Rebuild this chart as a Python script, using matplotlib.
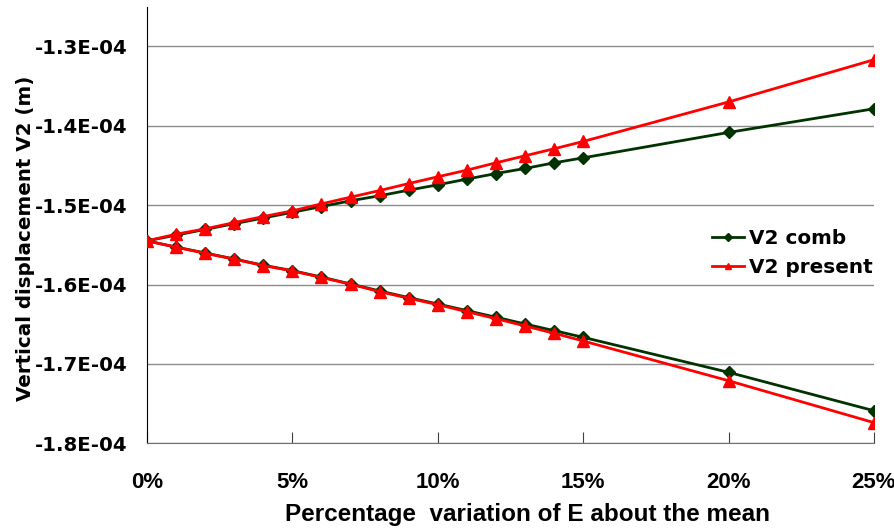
import matplotlib
matplotlib.use("Agg")
import matplotlib.pyplot as plt
import numpy as np
from matplotlib.ticker import FuncFormatter, MultipleLocator

# percentage variation of E (x) and vertical displacement V2 in units of 1E-04 m
pct = [0, 1, 2, 3, 4, 5, 6, 7, 8, 9, 10, 11, 12, 13, 14, 15, 20, 25]

comb_up = [-1.545, -1.5378, -1.5306, -1.5234, -1.5162, -1.5090, -1.5018, -1.4945,
           -1.4882, -1.4811, -1.4744, -1.4672, -1.4602, -1.4538, -1.4467, -1.4404,
           -1.4084, -1.3786]
comb_low = [-1.545, -1.5528, -1.5603, -1.5678, -1.5757, -1.5825, -1.5906, -1.5993,
            -1.6081, -1.6165, -1.6245, -1.6329, -1.6412, -1.6497, -1.6581, -1.6665,
            -1.7106, -1.7590]
present_up = [-1.545, -1.5366, -1.5299, -1.5220, -1.5144, -1.5072, -1.4984, -1.4900,
              -1.4816, -1.4728, -1.4643, -1.4559, -1.4467, -1.4378, -1.4290, -1.4198,
              -1.3700, -1.3168]
present_low = [-1.545, -1.5530, -1.5606, -1.5681, -1.5761, -1.5829, -1.5911, -1.5996,
               -1.6090, -1.6173, -1.6254, -1.6342, -1.6430, -1.6522, -1.6614, -1.6711,
               -1.7212, -1.7740]

WIDE = ["DejaVu Sans"]
NARROW = ["Liberation Sans Narrow", "Liberation Sans", "DejaVu Sans"]


def branch(up, low):
    # one polyline: upper branch from 25% back to 0%, then lower branch out to 25%
    x = np.concatenate([np.array(pct[::-1]), np.array(pct[1:])]) / 100.0
    y = np.concatenate([np.array(up[::-1]), np.array(low[1:])]) * 1e-4
    return x, y


fig = plt.figure(figsize=(8.95, 5.31), dpi=100)
ax = fig.add_axes([0.1642, 0.1652, 0.8123, 0.8222])

x, y = branch(comb_up, comb_low)
ax.plot(x, y, color="#003300", lw=2.0, marker="D", ms=6.5, label="V2 comb", zorder=3)
x, y = branch(present_up, present_low)
ax.plot(x, y, color="#ff0000", lw=2.0, marker="^", ms=8, label="V2 present", zorder=4)

ax.set_xlim(0, 0.25)
ax.set_ylim(-1.8e-4, -1.25e-4)
ax.xaxis.set_major_locator(MultipleLocator(0.05))
ax.yaxis.set_major_locator(MultipleLocator(0.1e-4))
ax.xaxis.set_major_formatter(FuncFormatter(lambda v, p: f"{round(v * 100):d}%"))
ax.yaxis.set_major_formatter(FuncFormatter(lambda v, p: "%.1E" % v))

ax.grid(axis="y", color="#8c8c8c", lw=1.0)
ax.set_axisbelow(True)
for s in ("top", "right"):
    ax.spines[s].set_visible(False)
ax.spines["left"].set_color("black")
ax.spines["bottom"].set_color("#707070")
ax.tick_params(axis="x", direction="in", length=8, color="#404040", pad=21)
ax.tick_params(axis="y", length=0, pad=14)

for lab in ax.get_yticklabels():
    lab.set_fontfamily(WIDE)
    lab.set_fontweight("bold")
    lab.set_fontsize(14.2)
for lab in ax.get_xticklabels():
    lab.set_fontfamily(NARROW)
    lab.set_fontweight("bold")
    lab.set_fontsize(16)
    lab.set_clip_on(False)

ax.set_xlabel("Percentage  variation of E about the mean", family=NARROW,
              fontweight="bold", fontsize=17.5)
ax.xaxis.set_label_coords(0.523, -0.137)
ax.set_ylabel("Vertical displacement V2 (m)", family=WIDE, fontweight="bold", fontsize=14.3)
ax.yaxis.set_label_coords(-0.154, 0.47)

leg = ax.legend(loc="center left", bbox_to_anchor=(0.752, 0.435), frameon=False,
                prop={"family": WIDE, "weight": "bold", "size": 14.4},
                handlelength=1.6, markerscale=0.6, labelspacing=0.5, handletextpad=0.25)

fig.savefig("out.png", dpi=100)
